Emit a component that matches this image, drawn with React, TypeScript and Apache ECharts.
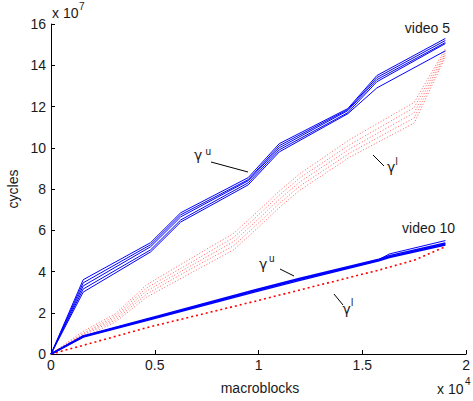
import React, { useEffect, useRef } from "react";
import * as echarts from "echarts";

// Axis ticks (x in units of 10^4 macroblocks, y in units of 10^7 cycles)
const X_TICKS = [0, 0.5, 1, 1.5, 2];
const Y_TICKS = [0, 2, 4, 6, 8, 10, 12, 14, 16];

// video 5, gamma^u (blue solid)
const V5U_X = [0, 0.155, 0.48, 0.625, 0.95, 1.1, 1.43, 1.57, 1.9];
const V5U_1 = [0, 3.6, 5.4, 6.85, 8.55, 10.2, 11.9, 13.5, 15.3];
const V5U_2 = [0, 3.45, 5.3, 6.75, 8.45, 10.1, 11.85, 13.4, 15.2];
const V5U_3 = [0, 3.3, 5.2, 6.65, 8.4, 10.0, 11.8, 13.3, 15.1];
const V5U_4 = [0, 3.15, 5.05, 6.5, 8.3, 9.9, 11.7, 13.2, 15.05];
const V5U_5 = [0, 3.0, 4.95, 6.4, 8.2, 9.8, 11.65, 12.9, 14.7];

// video 5, gamma^l (red dotted)
const V5L_X = [0, 0.155, 0.31, 0.46, 0.66, 0.88, 1.0, 1.1, 1.2, 1.44, 1.75, 1.9];
const V5L_1 = [0, 1.1, 1.95, 3.35, 4.55, 5.85, 6.95, 7.9, 8.75, 10.4, 12.2, 14.8];
const V5L_2 = [0, 1.0, 1.85, 3.2, 4.35, 5.65, 6.75, 7.7, 8.55, 10.15, 11.95, 14.7];
const V5L_3 = [0, 0.95, 1.75, 3.05, 4.2, 5.45, 6.55, 7.5, 8.35, 9.95, 11.7, 14.6];
const V5L_4 = [0, 0.9, 1.65, 2.9, 4.05, 5.25, 6.35, 7.3, 8.15, 9.75, 11.45, 14.5];
const V5L_5 = [0, 0.8, 1.55, 2.75, 3.85, 5.05, 6.15, 7.1, 7.95, 9.55, 11.2, 14.4];

// video 10, gamma^u (blue solid)
const V10U_X = [0, 0.155, 0.47, 0.52, 0.98, 1.2, 1.58, 1.63, 1.9];
const V10U_1 = [0, 0.85, 1.68, 1.82, 3.05, 3.62, 4.55, 4.72, 5.33];
const V10U_2 = [0, 0.88, 1.72, 1.85, 3.1, 3.67, 4.6, 4.77, 5.38];
const V10U_3 = [0, 0.82, 1.65, 1.78, 3.0, 3.57, 4.52, 4.68, 5.28];
const V10U_4 = [0, 0.86, 1.7, 1.83, 3.07, 3.64, 4.58, 4.85, 5.5];

// video 10, gamma^l (red dotted)
const V10L_X = [0, 0.155, 0.47, 0.98, 1.58, 1.75, 1.9];
const V10L_1 = [0, 0.42, 1.3, 2.55, 4.07, 4.55, 5.2];

const FONT = "'Liberation Sans', Arial, Helvetica, sans-serif";
const GREEK = "'DejaVu Sans', 'Liberation Sans', sans-serif";
const TXT = "#1a1a1a";

function zip(xs: number[], ys: number[]) {
  return xs.map((x, i) => [x, ys[i]]);
}

function lineSeries(xs: number[], ys: number[], style: any) {
  return {
    type: "line",
    data: zip(xs, ys),
    showSymbol: false,
    symbol: "none",
    silent: true,
    lineStyle: style,
  };
}

function txt(x: number, y: number, text: string, size: number, align: string, extra: any = {}, font: string = FONT) {
  return {
    type: "text",
    x,
    y,
    silent: true,
    ...extra,
    style: {
      text,
      fontSize: size,
      fontFamily: font,
      fill: TXT,
      align,
      verticalAlign: "middle",
    },
  };
}

function seg(x1: number, y1: number, x2: number, y2: number) {
  return {
    type: "line",
    silent: true,
    shape: { x1, y1, x2, y2 },
    style: { stroke: "#000", lineWidth: 1 },
  };
}

export default function App() {
  const ref = useRef<HTMLDivElement>(null);

  useEffect(() => {
    if (!ref.current) return;
    const chart = echarts.init(ref.current, null, { renderer: "svg" });

    const blue5 = { color: "#0000ff", width: 1, type: "solid" };
    const red5 = { color: "rgba(255,30,30,0.7)", width: 1, type: [1, 2] };
    const blue10 = { color: "#0000ff", width: 1.5, type: "solid" };
    const red10 = { color: "#ff0000", width: 1.6, type: [2, 3] };

    const series = [
      lineSeries(V5L_X, V5L_1, red5),
      lineSeries(V5L_X, V5L_2, red5),
      lineSeries(V5L_X, V5L_3, red5),
      lineSeries(V5L_X, V5L_4, red5),
      lineSeries(V5L_X, V5L_5, red5),
      lineSeries(V10L_X, V10L_1, red10),
      lineSeries(V5U_X, V5U_1, blue5),
      lineSeries(V5U_X, V5U_2, blue5),
      lineSeries(V5U_X, V5U_3, blue5),
      lineSeries(V5U_X, V5U_4, blue5),
      lineSeries(V5U_X, V5U_5, blue5),
      lineSeries(V10U_X, V10U_4, { ...blue10, width: 1 }),
      lineSeries(V10U_X, V10U_1, blue10),
      lineSeries(V10U_X, V10U_2, blue10),
      lineSeries(V10U_X, V10U_3, blue10),
    ];

    const axisCommon = {
      axisLine: { show: true, lineStyle: { color: "#000", width: 1 } },
      axisTick: { show: true, inside: true, length: 4, lineStyle: { color: "#000" } },
      splitLine: { show: false },
    };

    chart.setOption({
      animation: false,
      backgroundColor: "#fff",
      grid: { left: 51, right: 3, top: 24, bottom: 47, containLabel: false },
      xAxis: {
        type: "value",
        min: X_TICKS[0],
        max: X_TICKS[X_TICKS.length - 1],
        interval: X_TICKS[1] - X_TICKS[0],
        ...axisCommon,
        axisLabel: {
          fontSize: 14,
          fontFamily: FONT,
          color: TXT,
          margin: 4,
          showMaxLabel: true,
          showMinLabel: true,
          formatter: (v: number) => String(v),
        },
      },
      yAxis: {
        type: "value",
        min: Y_TICKS[0],
        max: Y_TICKS[Y_TICKS.length - 1],
        interval: Y_TICKS[1] - Y_TICKS[0],
        ...axisCommon,
        axisLabel: {
          fontSize: 14,
          fontFamily: FONT,
          color: TXT,
          margin: 5,
          showMaxLabel: true,
          showMinLabel: true,
        },
      },
      series,
      graphic: [
        // axis exponents
        txt(52, 13, "x 10", 14, "left"),
        txt(79, 6.5, "7", 10, "left"),
        txt(437, 389, "x 10", 14, "left"),
        txt(465, 381.5, "4", 10, "left"),
        // axis names
        txt(260, 388, "macroblocks", 14, "center"),
        txt(13, 189, "cycles", 14, "center", { rotation: Math.PI / 2 }),
        // video labels
        txt(450, 28, "video 5", 14, "right"),
        txt(455, 228, "video 10", 14, "right"),
        // video 5 annotations
        txt(194, 155, "γ", 14, "left", {}, GREEK),
        txt(205.5, 151.5, "u", 10, "left"),
        seg(211, 162, 248, 172),
        txt(387, 166.5, "γ", 14, "left", {}, GREEK),
        txt(395.5, 161.5, "l", 10, "left"),
        seg(373, 155, 384, 166),
        // video 10 annotations
        txt(259, 263.5, "γ", 14, "left", {}, GREEK),
        txt(269, 258.5, "u", 10, "left"),
        seg(280, 269, 294, 276),
        txt(342.5, 308.5, "γ", 14, "left", {}, GREEK),
        txt(351, 302.5, "l", 10, "left"),
        seg(334, 294, 343, 305),
      ],
    });

    return () => chart.dispose();
  }, []);

  return (
    <div
      ref={ref}
      style={{ position: "fixed", left: 0, top: 0, width: 473, height: 401, background: "#fff" }}
    />
  );
}
